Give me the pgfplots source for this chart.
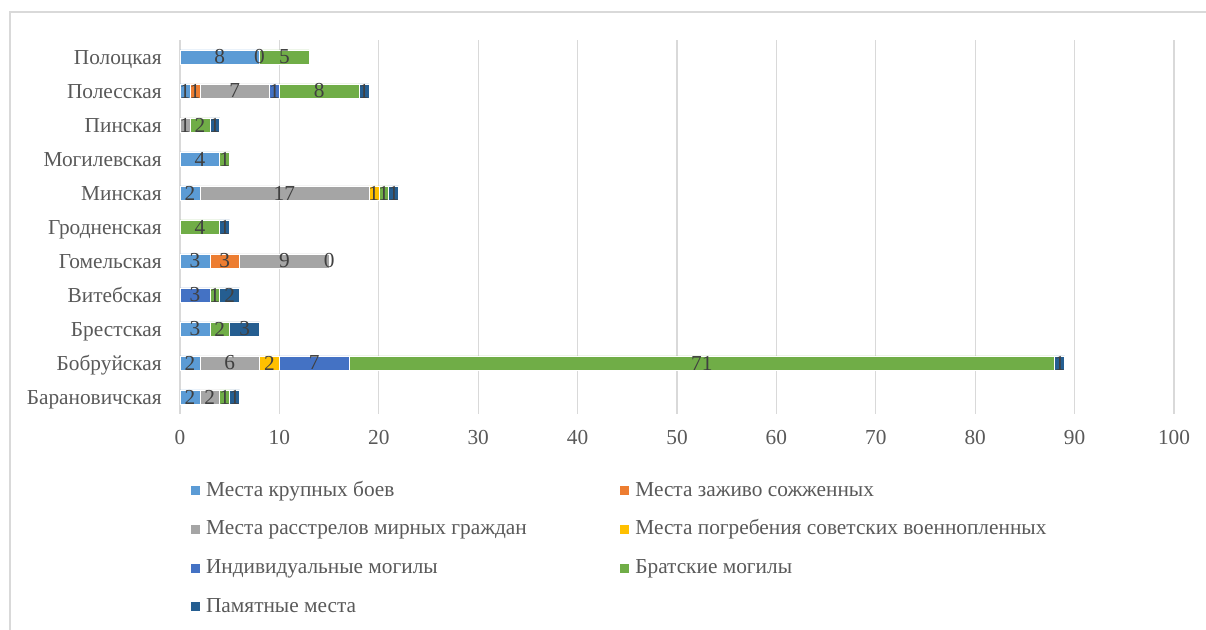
\documentclass[border=0pt]{standalone}
\usepackage{fontspec}
\setmainfont{Liberation Serif}
\usepackage{pgfplots}
\pgfplotsset{compat=1.18}
\definecolor{sa}{HTML}{5B9BD5}
\definecolor{sb}{HTML}{ED7D31}
\definecolor{sc}{HTML}{A5A5A5}
\definecolor{sd}{HTML}{FFC000}
\definecolor{se}{HTML}{4472C4}
\definecolor{sf}{HTML}{70AD47}
\definecolor{sg}{HTML}{255E91}
\definecolor{txt}{HTML}{595959}
\definecolor{lbl}{HTML}{404040}
\definecolor{gridc}{HTML}{D9D9D9}

\begin{document}
\begin{tikzpicture}[x=1pt,y=1pt]
\useasboundingbox (0,0) rectangle (904.5,472.5);
\draw[gridc, line width=0.9pt] (7.5,0) -- (7.5,463.5) -- (904.5,463.5);
\begin{axis}[
  at={(135pt,162pt)}, anchor=south west,
  width=745.5pt, height=280.5pt, scale only axis,
  xbar stacked, bar width=10.5pt,
  xmin=0, xmax=100, ymin=-0.5, ymax=10.5,
  xtick={0,10,...,100},
  ytick={0,...,10},
  yticklabels={Барановичская,Бобруйская,Брестская,Витебская,Гомельская,Гродненская,Минская,Могилевская,Пинская,Полесская,Полоцкая},
  axis line style={draw=none},
  major tick length=0pt,
  xmajorgrids,
  grid style={gridc, line width=0.9pt},
  tick label style={font=\fontsize{16}{19}\selectfont, text=txt, inner sep=0pt},
  /pgf/number format/assume math mode=true,
  xticklabel style={anchor=north, yshift=-12pt},
  yticklabel style={anchor=base east, xshift=-13.5pt, yshift=-6pt},
  nodes near coords,
  point meta=explicit symbolic,
  every node near coord/.append style={anchor=center,
    font=\fontsize{16}{19}\selectfont, text=lbl, inner sep=0pt},
  legend columns=2,
  legend cell align=left,
  legend image code/.code={\fill[#1] (0pt,-3.75pt) rectangle (7.5pt,3.75pt);},
  legend style={at={(0.01,-0.176)}, anchor=north west, draw=none, fill=none,
    inner sep=0pt, row sep=13pt,
    font=\fontsize{16}{19}\selectfont, text=txt,
    nodes={inner sep=0pt, text height=12pt, text depth=4pt},
    /tikz/every odd column/.append style={column sep=4pt},
    /tikz/every even column/.append style={column sep=69.5pt}},
  every axis plot/.append style={draw=white, line width=0.4pt},
]
% Места крупных боев
\addplot[fill=sa] coordinates {(2,0)[2] (2,1)[2] (3,2)[3] (0,3)[] (3,4)[3] (0,5)[] (2,6)[2] (4,7)[4] (0,8)[] (1,9)[1] (8,10)[8]};
\addlegendentry{Места крупных боев}
% Места заживо сожженных
\addplot[fill=sb] coordinates {(0,0)[] (0,1)[] (0,2)[] (0,3)[] (3,4)[3] (0,5)[] (0,6)[] (0,7)[] (0,8)[] (1,9)[1] (0,10)[]};
\addlegendentry{Места заживо сожженных}
% Места расстрелов мирных граждан
\addplot[fill=sc] coordinates {(2,0)[2] (6,1)[6] (0,2)[] (0,3)[] (9,4)[9] (0,5)[] (17,6)[17] (0,7)[] (1,8)[1] (7,9)[7] (0,10)[]};
\addlegendentry{Места расстрелов мирных граждан}
% Места погребения советских военнопленных
\addplot[fill=sd] coordinates {(0,0)[] (2,1)[2] (0,2)[] (0,3)[] (0,4)[] (0,5)[] (1,6)[1] (0,7)[] (0,8)[] (0,9)[] (0,10)[]};
\addlegendentry{Места погребения советских военнопленных}
% Индивидуальные могилы
\addplot[fill=se] coordinates {(0,0)[] (7,1)[7] (0,2)[] (3,3)[3] (0,4)[] (0,5)[] (0,6)[] (0,7)[] (0,8)[] (1,9)[1] (0,10)[]};
\addlegendentry{Индивидуальные могилы}
% Братские могилы
\addplot[fill=sf] coordinates {(1,0)[1] (71,1)[71] (2,2)[2] (1,3)[1] (0,4)[] (4,5)[4] (1,6)[1] (1,7)[1] (2,8)[2] (8,9)[8] (5,10)[5]};
\addlegendentry{Братские могилы}
% Памятные места
\addplot[fill=sg] coordinates {(1,0)[1] (1,1)[1] (3,2)[3] (2,3)[2] (0,4)[] (1,5)[1] (1,6)[1] (0,7)[] (1,8)[1] (1,9)[1] (0,10)[]};
\addlegendentry{Памятные места}
% zero-valued labels shown in the chart (Гомельская, Полоцкая);
% labels are centred on the bar, so push them to its end
\addplot[stack plots=false, forget plot, draw=none, fill=none,
  visualization depends on={rawx \as \rawxval},
  every node near coord/.append style={xshift={3.7275pt*\rawxval}}]
  coordinates {(15,4)[0] (8,10)[0]};
\end{axis}
\end{tikzpicture}
\end{document}
